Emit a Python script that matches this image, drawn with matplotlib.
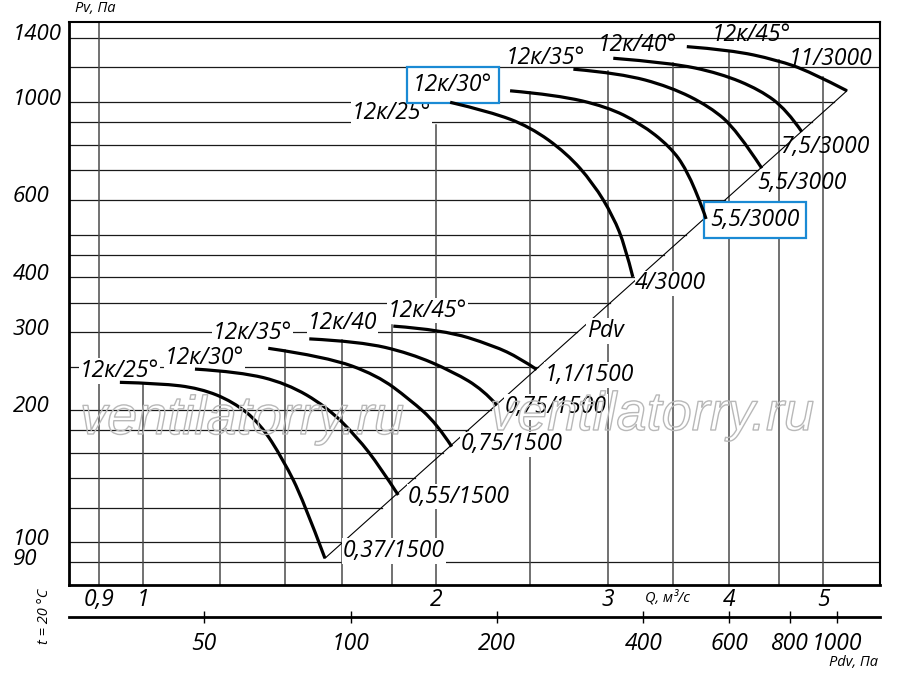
import numpy as np
import matplotlib
matplotlib.use('Agg')
import matplotlib.pyplot as plt
import matplotlib.patheffects as pe
import matplotlib.transforms as mtransforms
from matplotlib.path import Path
from matplotlib.patches import PathPatch
from matplotlib.ticker import NullLocator

plt.rcParams['font.family'] = ['Open Sans', 'DejaVu Sans']
plt.rcParams['font.style'] = 'italic'

# --- кривые 3000 об/мин (Q, м3/с ; Pv, Па) ---
q25_hi = [2.067, 2.272, 2.497, 2.724, 2.901, 3.041, 3.128, 3.185]
p25_hi = [1000, 952, 880, 766, 654, 550, 470, 401]
q30_hi = [2.382, 2.661, 2.995, 3.241, 3.478, 3.619, 3.764, 3.788]
p30_hi = [1062, 1039, 977, 896, 793, 702, 569, 543]
q35_hi = [2.767, 3.090, 3.478, 3.824, 4.074, 4.322]
p35_hi = [1189, 1164, 1085, 977, 865, 708]
q40_hi = [3.041, 3.478, 3.915, 4.305, 4.585, 4.751]
p40_hi = [1259, 1230, 1164, 1067, 961, 857]
q45_hi = [3.619, 4.010, 4.478, 4.845, 5.287]
p45_hi = [1338, 1315, 1248, 1174, 1062]

# --- кривые 1500 об/мин ---
q25_lo = [0.946, 1.040, 1.144, 1.237, 1.318, 1.393, 1.460, 1.537]
p25_lo = [231, 229.8, 223.9, 208.7, 186.4, 153.8, 124.8, 92]
q30_lo = [1.130, 1.257, 1.404, 1.543, 1.657, 1.751, 1.828]
p30_lo = [247.6, 244, 229.8, 203.3, 173.8, 148.5, 128.1]
q35_lo = [1.344, 1.543, 1.738, 1.880, 2.002, 2.075]
p35_lo = [276, 264, 240, 211, 186.4, 165]
q40_lo = [1.481, 1.670, 1.880, 2.083, 2.236, 2.309]
p40_lo = [290, 286, 269, 244, 222, 205]
q45_lo = [1.807, 2.034, 2.290, 2.439, 2.537]
p45_lo = [310, 304, 280, 262, 247]

# линия Pdv (концы)
pdv_line_q = [1.537, 5.287]
pdv_line_p = [92, 1062]

# сетка
hgrid_p = [90, 100, 120, 140, 160, 180, 200, 250, 300, 350, 400, 450,
           500, 600, 700, 800, 900, 1000, 1200, 1400]
vgrid_q = [0.9, 1, 1.2, 1.4, 1.6, 1.8, 2, 2.5, 3, 3.5, 4, 4.5, 5]
vgrid_top = [1522, 230, 246, 273, 288, 312, 890, 1055, 1175, 1230, 1305, 1250, 1140]

q_ticks = [0.9, 1, 2, 3, 4, 5]
q_labels = ['0,9', '1', '2', '3', '4', '5']
p_ticks = [90, 100, 200, 300, 400, 600, 1000, 1400]
p_labels = ['90', '100', '200', '300', '400', '600', '1000', '1400']
pdv_ticks = [50, 100, 200, 400, 600, 800, 1000]
pdv_labels = ['50', '100', '200', '400', '600', '800', '1000']
K_PDV = 37.5

BLUE = '#1a8ad4'
FS = 16.5

fig = plt.figure(figsize=(9, 6.73), dpi=100)
ax = fig.add_axes([69 / 900, 1 - 585 / 673, 811 / 900, 563 / 673])
ax.set_xscale('log')
ax.set_yscale('log')
ax.set_xlim(0.8387, 5.717)
ax.set_ylim(80, 1522)

# горизонтальные линии сетки обрываются на линии Pdv
lq = np.log10(pdv_line_q)
lp = np.log10(pdv_line_p)
for p in hgrid_p:
    if pdv_line_p[0] <= p <= pdv_line_p[1]:
        qe = 10 ** np.interp(np.log10(p), lp, lq)
    else:
        qe = 5.717
    ax.plot([0.8387, qe], [p, p], color='#1a1a1a', lw=0.9, zorder=1)
for q, top in zip(vgrid_q, vgrid_top):
    ax.plot([q, q], [80, top], color='#4a4a4a', lw=1.1, zorder=1)

ax.plot(pdv_line_q, pdv_line_p, color='black', lw=0.8, zorder=2)


def smooth_curve(qs, ps):
    # гладкая кривая по точкам (квадратичные Безье в лог-пространстве)
    lx, ly = np.log10(qs), np.log10(ps)
    verts = [(qs[0], ps[0])]
    codes = [Path.MOVETO]
    n = len(qs)
    for i in range(1, n - 1):
        if i < n - 2:
            end = (10 ** ((lx[i] + lx[i + 1]) / 2), 10 ** ((ly[i] + ly[i + 1]) / 2))
        else:
            end = (qs[-1], ps[-1])
        verts += [(qs[i], ps[i]), end]
        codes += [Path.CURVE3, Path.CURVE3]
    return PathPatch(Path(verts, codes), fill=False, edgecolor='black', lw=2.3,
                     capstyle='butt', transform=ax.transData, zorder=5)


curves = [(q25_hi, p25_hi), (q30_hi, p30_hi), (q35_hi, p35_hi), (q40_hi, p40_hi),
          (q45_hi, p45_hi), (q25_lo, p25_lo), (q30_lo, p30_lo), (q35_lo, p35_lo),
          (q40_lo, p40_lo), (q45_lo, p45_lo)]
for qs, ps in curves:
    ax.add_patch(smooth_curve(qs, ps))

white = dict(facecolor='white', edgecolor='none', pad=0.5)
boxed = dict(boxstyle='square,pad=0.28', facecolor='white', edgecolor=BLUE, lw=1.6)
labels = [
    ('12к/25°', 1.639, 945, white),
    ('12к/30°', 1.893, 1095, boxed),
    ('12к/35°', 2.359, 1260, None),
    ('12к/40°', 2.934, 1350, None),
    ('12к/45°', 3.843, 1422, None),
    ('11/3000', 4.609, 1254, None),
    ('7,5/3000', 4.513, 790, None),
    ('5,5/3000', 4.275, 655, None),
    ('5,5/3000', 3.824, 540, boxed),
    ('4/3000', 3.203, 388, white),
    ('Pdv', 2.858, 302, white),
    ('12к/25°', 0.861, 245, white),
    ('12к/30°', 1.053, 262, white),
    ('12к/35°', 1.179, 299, white),
    ('12к/40', 1.477, 315, white),
    ('12к/45°', 1.784, 336, white),
    ('1,1/1500', 2.588, 240, white),
    ('0,75/1500', 2.354, 203, white),
    ('0,75/1500', 2.117, 167, white),
    ('0,55/1500', 1.871, 127, white),
    ('0,37/1500', 1.604, 95.5, white),
]
for txt, q, p, bb in labels:
    ax.text(q, p, txt, fontsize=FS, ha='left', va='center', bbox=bb, zorder=4)

# водяной знак
for xf, yp in ((80, 420), (490, 416)):
    fig.text(xf / 900, 1 - yp / 673, 'ventilatorry.ru', fontsize=39, ha='left', va='center',
             family=['Liberation Sans', 'DejaVu Sans'], color='none', zorder=3,
             path_effects=[pe.Stroke(linewidth=1.0, foreground='#b8b8b8')])

# оси
ax.set_xticks(q_ticks, labels=q_labels)
ax.set_yticks(p_ticks, labels=[])
ax.xaxis.set_minor_locator(NullLocator())
ax.yaxis.set_minor_locator(NullLocator())
ax.tick_params(axis='x', length=0, pad=2, labelsize=FS)
ax.tick_params(axis='y', length=0)
up = mtransforms.ScaledTranslation(0, 3 / 100, fig.dpi_scale_trans)
for p, lab in zip(p_ticks, p_labels):
    ax.text(-56 / 811, p, lab, fontsize=16, ha='left', va='center',
            transform=ax.get_yaxis_transform() + up)
for side in ('left', 'bottom'):
    ax.spines[side].set_linewidth(2.0)
for side in ('top', 'right'):
    ax.spines[side].set_linewidth(1.5)


def q_to_pdv(q):
    q = np.asarray(q, float)
    return K_PDV * np.where(q > 0, q, 1e-9) ** 2


def pdv_to_q(p):
    p = np.asarray(p, float)
    return np.sqrt(np.where(p > 0, p, 1e-9) / K_PDV)


sec = ax.secondary_xaxis(-0.0563, functions=(q_to_pdv, pdv_to_q))
sec.set_xticks(pdv_ticks, labels=pdv_labels)
sec.xaxis.set_minor_locator(NullLocator())
sec.spines['bottom'].set_linewidth(2.0)
sec.tick_params(direction='inout', length=8, width=1.0, pad=7, labelsize=FS)

fig.text(95 / 900, 1 - 8 / 673, 'Pv, Па', fontsize=10.5, ha='center', va='center')
fig.text(667 / 900, 1 - 598 / 673, 'Q, м³/с', fontsize=10.5, ha='center', va='center')
fig.text(878 / 900, 1 - 662 / 673, 'Pdv, Па', fontsize=10.5, ha='right', va='center')
fig.text(45 / 900, 1 - 616 / 673, 't = 20 °С', fontsize=10.5, ha='center', va='center',
         rotation=90)

fig.savefig('out.png', dpi=100, facecolor='white')
